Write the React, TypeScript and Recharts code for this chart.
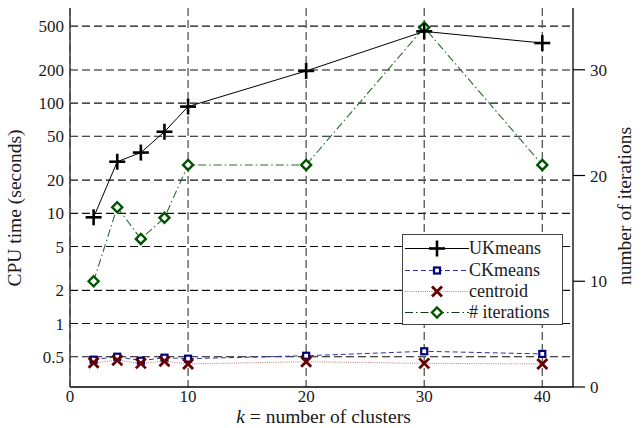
import React from 'react';
import { ComposedChart, Line, XAxis, YAxis, CartesianGrid, Legend } from 'recharts';

const kValues = [2, 4, 6, 8, 10, 20, 30, 40];
const ukmeansTime = [9.2, 29.4, 35.6, 55, 93, 196, 448, 351];
const ckmeansTime = [0.47, 0.5, 0.46, 0.49, 0.48, 0.51, 0.56, 0.53];
const centroidTime = [0.44, 0.465, 0.435, 0.455, 0.43, 0.45, 0.435, 0.43];
const iterations = [10, 17, 14, 16, 21, 21, 34, 21];
const xTicks = [0, 10, 20, 30, 40];
const timeTicks = [0.5, 1, 2, 5, 10, 20, 50, 100, 200, 500];
const iterTicks = [0, 10, 20, 30];
const seriesNames = ['UKmeans', 'CKmeans', 'centroid', '# iterations'];

const data = kValues.map((k, i) => ({
  k,
  uk: ukmeansTime[i],
  ck: ckmeansTime[i],
  ce: centroidTime[i],
  it: iterations[i],
}));

const FONT = "'Liberation Serif', 'Times New Roman', serif";
const TEXT = '#1a1a1a';

const C_UK = '#000000';
const C_CK_M = '#00007a';
const C_CK_L = '#3030b0';
const C_CE_M = '#650000';
const C_CE_L = '#c07878';
const C_IT_M = '#005400';
const C_IT_L = '#2a6e2a';

const Plus = ({ cx, cy }: { cx: number; cy: number }) => (
  <g>
    <line x1={cx - 8} x2={cx + 8} y1={cy} y2={cy} stroke={C_UK} strokeWidth={2.6} />
    <line x1={cx} x2={cx} y1={cy - 8} y2={cy + 8} stroke={C_UK} strokeWidth={2.6} />
  </g>
);
const Square = ({ cx, cy }: { cx: number; cy: number }) => (
  <rect x={cx - 3} y={cy - 3} width={6} height={6} fill="#fff" stroke={C_CK_M} strokeWidth={2.2} />
);
const Cross = ({ cx, cy }: { cx: number; cy: number }) => (
  <g>
    <line x1={cx - 5} x2={cx + 5} y1={cy - 5} y2={cy + 5} stroke={C_CE_M} strokeWidth={2.8} />
    <line x1={cx - 5} x2={cx + 5} y1={cy + 5} y2={cy - 5} stroke={C_CE_M} strokeWidth={2.8} />
  </g>
);
const Diamond = ({ cx, cy }: { cx: number; cy: number }) => (
  <polygon
    points={`${cx},${cy - 5} ${cx + 5},${cy} ${cx},${cy + 5} ${cx - 5},${cy}`}
    fill="#fff"
    stroke={C_IT_M}
    strokeWidth={2.4}
  />
);

const legendRows = [
  { name: seriesNames[0], color: C_UK, dash: undefined, M: Plus },
  { name: seriesNames[1], color: C_CK_L, dash: '5 3', M: Square },
  { name: seriesNames[2], color: C_CE_L, dash: '1 1.2', M: Cross },
  { name: seriesNames[3], color: '#0a400a', dash: '8 3 1.5 3', M: Diamond },
];

const LegendBox = () => (
  <div
    style={{
      width: 161,
      height: 91,
      border: '1.5px solid #444',
      background: '#fff',
      boxSizing: 'border-box',
      paddingTop: 3,
      fontFamily: FONT,
      fontSize: 18,
      color: TEXT,
    }}
  >
    {legendRows.map((r) => (
      <div key={r.name} style={{ display: 'flex', alignItems: 'center', height: 21.4, whiteSpace: 'nowrap' }}>
        <svg width={66} height={21} style={{ display: 'block', flex: 'none' }}>
          <line x1={2} x2={66} y1={10.5} y2={10.5} stroke={r.color} strokeWidth={1.1} strokeDasharray={r.dash} />
          <r.M cx={34} cy={10.5} />
        </svg>
        <span style={{ lineHeight: '21px' }}>{r.name}</span>
      </div>
    ))}
  </div>
);

const XLabel = (props: any) => {
  const vb = props.viewBox || { x: 70, width: 503, y: 387 };
  return (
    <text x={vb.x + vb.width / 2 + 2} y={423} textAnchor="middle" fontFamily={FONT} fontSize={19.5} fill={TEXT}>
      <tspan fontStyle="italic">k</tspan>
      <tspan> = number of clusters</tspan>
    </text>
  );
};

const LeftLabel = () => (
  <text
    x={21}
    y={208}
    transform="rotate(-90 21 208)"
    textAnchor="middle"
    fontFamily={FONT}
    fontSize={19.5}
    fill={TEXT}
  >
    CPU time (seconds)
  </text>
);

const RightLabel = () => (
  <text
    x={631}
    y={206}
    transform="rotate(-90 631 206)"
    textAnchor="middle"
    fontFamily={FONT}
    fontSize={19.5}
    fill={TEXT}
  >
    number of iterations
  </text>
);

const fmtTime = (v: number) => String(v);

export default function App() {
  return (
    <div style={{ position: 'absolute', left: 0, top: 0, width: 644, height: 428, background: '#fff' }}>
      <ComposedChart
        width={644}
        height={428}
        data={data}
        margin={{ top: 8, right: 20, bottom: 0, left: 10 }}
        style={{ fontFamily: FONT }}
      >
        <CartesianGrid
          yAxisId="left"
          horizontal={true}
          vertical={false}
          stroke="#111"
          strokeWidth={1.1}
          strokeDasharray="8 4"
          horizontalValues={timeTicks}
        />
        <CartesianGrid
          yAxisId="left"
          horizontal={false}
          vertical={true}
          stroke="#555"
          strokeWidth={1.3}
          strokeDasharray="8 4"
          verticalValues={xTicks}
        />
        <XAxis
          dataKey="k"
          type="number"
          domain={[0, 42.6]}
          ticks={xTicks}
          allowDataOverflow
          height={41}
          tickLine={false}
          tickSize={0}
          tickMargin={3}
          axisLine={{ stroke: '#000', strokeWidth: 1.3 }}
          tick={{ fontFamily: FONT, fontSize: 17, fill: TEXT }}
          label={<XLabel />}
        />
        <XAxis
          xAxisId="top"
          dataKey="k"
          type="number"
          domain={[0, 42.6]}
          orientation="top"
          height={0}
          tick={false}
          tickLine={false}
          axisLine={{ stroke: '#000', strokeWidth: 1.3 }}
        />
        <YAxis
          yAxisId="left"
          scale="log"
          domain={[0.2655, 730]}
          allowDataOverflow
          ticks={timeTicks}
          tickFormatter={fmtTime}
          width={60}
          tickLine={false}
          tickSize={0}
          tickMargin={6}
          axisLine={{ stroke: '#444', strokeWidth: 1.6 }}
          tick={{ fontFamily: FONT, fontSize: 17, fill: TEXT }}
          label={<LeftLabel />}
        />
        <YAxis
          yAxisId="right"
          orientation="right"
          domain={[0, 35.84]}
          allowDataOverflow
          ticks={iterTicks}
          width={51}
          tickLine={{ stroke: '#000', strokeWidth: 1.2 }}
          tickSize={12}
          tickMargin={5}
          axisLine={{ stroke: '#000', strokeWidth: 1.3 }}
          tick={{ fontFamily: FONT, fontSize: 17, fill: TEXT, textAnchor: 'start' }}
          label={<RightLabel />}
        />
        <Line
          yAxisId="right"
          dataKey="it"
          name={seriesNames[3]}
          type="linear"
          stroke={C_IT_L}
          strokeWidth={1.1}
          strokeDasharray="8 3 1.5 3"
          isAnimationActive={false}
          dot={(p: any) => <Diamond key={'it' + p.index} cx={p.cx} cy={p.cy} />}
          activeDot={false}
        />
        <Line
          yAxisId="left"
          dataKey="uk"
          name={seriesNames[0]}
          type="linear"
          stroke={C_UK}
          strokeWidth={1}
          isAnimationActive={false}
          dot={(p: any) => <Plus key={'uk' + p.index} cx={p.cx} cy={p.cy} />}
          activeDot={false}
        />
        <Line
          yAxisId="left"
          dataKey="ck"
          name={seriesNames[1]}
          type="linear"
          stroke={C_CK_L}
          strokeWidth={1}
          strokeDasharray="5 3"
          isAnimationActive={false}
          dot={(p: any) => <Square key={'ck' + p.index} cx={p.cx} cy={p.cy} />}
          activeDot={false}
        />
        <Line
          yAxisId="left"
          dataKey="ce"
          name={seriesNames[2]}
          type="linear"
          stroke={C_CE_L}
          strokeWidth={1}
          strokeDasharray="1 1.2"
          isAnimationActive={false}
          dot={(p: any) => <Cross key={'ce' + p.index} cx={p.cx} cy={p.cy} />}
          activeDot={false}
        />
        <Legend
          layout="horizontal"
          verticalAlign="middle"
          align="center"
          content={<LegendBox />}
          wrapperStyle={{ position: 'absolute', left: 402, top: 234, width: 163, height: 92, margin: 0 }}
        />
      </ComposedChart>
    </div>
  );
}
